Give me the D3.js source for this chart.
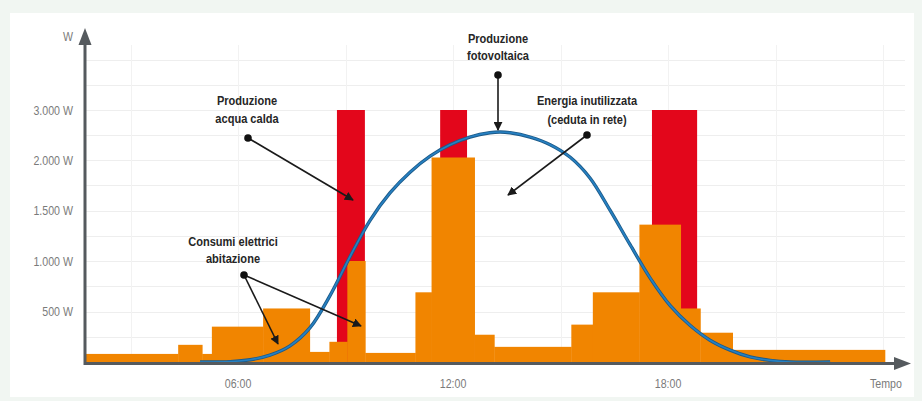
<!DOCTYPE html>
<html>
<head>
<meta charset="utf-8">
<script src="https://cdn.jsdelivr.net/npm/d3@7"></script>
<style>
  html, body { margin: 0; padding: 0; background: #f1f6f2; }
  svg { display: block; }
  .tick-label { font-family: "Liberation Sans", Arial, sans-serif; font-size: 12.5px; fill: #7a7a7a; }
  .note { font-family: "Liberation Sans", Arial, sans-serif; font-size: 13.5px; font-weight: bold; fill: #262626; }
</style>
</head>
<body>
<svg id="chart" width="922" height="401"></svg>
<script>
// Household consumption steps (hours of the day, watts)
const homeStart = [1.73, 4.33, 5.0, 5.27, 6.7, 8.0, 8.55, 9.05, 9.55, 10.95, 11.4, 12.6, 13.15, 15.3, 15.9, 17.2, 18.35, 18.9, 19.8];
const homeEnd   = [4.33, 5.0, 5.27, 6.7, 8.0, 8.55, 9.05, 9.55, 10.95, 11.4, 12.6, 13.15, 15.3, 15.9, 17.2, 18.35, 18.9, 19.8, 24.05];
const homeWatts = [80, 170, 80, 350, 530, 100, 200, 1000, 90, 690, 2050, 270, 150, 370, 690, 1360, 530, 290, 120];

// Water heater runs (hours, watts)
const heaterStart = [8.76, 11.64, 17.55];
const heaterEnd   = [9.54, 12.39, 18.81];
const heaterWatts = [3000, 3000, 3000];

// Photovoltaic production over the day (hours, watts)
const pvHours = [4.94, 5.78, 6.34, 6.89, 7.45, 8.01, 8.57, 9.13, 9.68, 10.24, 10.8, 11.36, 11.92, 12.47, 13.03, 13.31, 13.59, 14.15, 14.71, 15.27, 15.82, 16.38, 16.94, 17.5, 18.06, 18.61, 19.17, 19.73, 20.29, 20.85, 21.4, 22.52];
const pvWatts = [0, 3, 22, 68, 160, 340, 660, 1047, 1400, 1674, 1879, 2077, 2307, 2459, 2546, 2560, 2546, 2459, 2307, 2054, 1822, 1503, 1161, 831, 558, 364, 216, 118, 50, 16, 0, 0];

// Axes
const yTickValues = [500, 1000, 1500, 2000, 3000];
const yTickLabels = ["500 W", "1.000 W", "1.500 W", "2.000 W", "3.000 W"];
const yGridValues = [250, 500, 750, 1000, 1250, 1500, 1750, 2000, 2500, 3000, 3500, 4000];
const xTickValues = [6, 12, 18];
const xTickLabels = ["06:00", "12:00", "18:00"];
const xGridValues = [3, 6, 9, 12, 15, 18, 21, 24];

// Callout notes
const noteLines = [["Produzione", "acqua calda"], ["Consumi elettrici", "abitazione"], ["Produzione", "fotovoltaica"], ["Energia inutilizzata", "(ceduta in rete)"]];

const svg = d3.select("#chart");

// white panel
svg.append("rect").attr("x", 10).attr("y", 13).attr("width", 904).attr("height", 384).attr("fill", "#ffffff");

const x = d3.scaleLinear().domain([1.73, 24.75]).range([85, 910]);
// the value axis is compressed above 2 kW
const y = d3.scaleLinear().domain([0, 2000, 3000]).range([362, 160, 110]);

// grid
const grid = svg.append("g");
grid.selectAll("line.h").data(yGridValues).join("line")
  .attr("x1", 86).attr("x2", 905)
  .attr("y1", d => Math.round(y(d)) + 0.5).attr("y2", d => Math.round(y(d)) + 0.5)
  .attr("stroke", "#eeeeee").attr("stroke-width", 1);
grid.selectAll("line.v").data(xGridValues).join("line")
  .attr("x1", d => Math.round(x(d)) + 0.5).attr("x2", d => Math.round(x(d)) + 0.5)
  .attr("y1", 45).attr("y2", 362)
  .attr("stroke", "#f2f2f2").attr("stroke-width", 1);

// water heater bars
svg.append("g").selectAll("rect").data(heaterStart).join("rect")
  .attr("x", (d, i) => x(d))
  .attr("width", (d, i) => x(heaterEnd[i]) - x(d))
  .attr("y", (d, i) => y(heaterWatts[i]))
  .attr("height", (d, i) => y(0) - y(heaterWatts[i]))
  .attr("fill", "#e3061b");

// household consumption steps
svg.append("g").selectAll("rect").data(homeStart).join("rect")
  .attr("x", (d, i) => x(d))
  .attr("width", (d, i) => x(homeEnd[i]) - x(d) + 0.4)
  .attr("y", (d, i) => y(homeWatts[i]))
  .attr("height", (d, i) => y(0) - y(homeWatts[i]) + 1)
  .attr("fill", "#f18500");

// PV curve
const pvLine = d3.line()
  .x((d, i) => x(pvHours[i]))
  .y(d => y(d))
  .curve(d3.curveCatmullRom);
svg.append("path").datum(pvWatts)
  .attr("d", pvLine)
  .attr("fill", "none")
  .attr("stroke", "#1d5a88").attr("stroke-width", 3.4);
svg.append("path").datum(pvWatts)
  .attr("d", pvLine)
  .attr("fill", "none")
  .attr("stroke", "#2680c2").attr("stroke-width", 1.7);

// axes
const axisColor = "#555a5e";
svg.append("line").attr("x1", 85).attr("x2", 85).attr("y1", 42).attr("y2", 365)
  .attr("stroke", axisColor).attr("stroke-width", 3);
svg.append("path").attr("d", "M85,28 L78.5,45 L91.5,45 Z").attr("fill", axisColor);
svg.append("line").attr("x1", 84).attr("x2", 898).attr("y1", 363.5).attr("y2", 363.5)
  .attr("stroke", axisColor).attr("stroke-width", 3);
svg.append("path").attr("d", "M911,363.5 L894,357 L894,370 Z").attr("fill", axisColor);

// narrowed text helper
function narrowText(g, cls, tx, ty, anchor, str, sx) {
  return g.append("text").attr("class", cls)
    .attr("transform", `translate(${tx},${ty}) scale(${sx},1)`)
    .attr("text-anchor", anchor).text(str);
}

const labels = svg.append("g");
yTickValues.forEach((v, i) => narrowText(labels, "tick-label", 73, y(v) + 4.5, "end", yTickLabels[i], 0.85));
narrowText(labels, "tick-label", 73, 41, "end", "W", 0.85);
xTickValues.forEach((v, i) => narrowText(labels, "tick-label", x(v), 388, "middle", xTickLabels[i], 0.85));
narrowText(labels, "tick-label", 886, 388, "middle", "Tempo", 0.85);

// callouts
svg.append("defs").append("marker")
  .attr("id", "tip").attr("viewBox", "0 0 10 10")
  .attr("refX", 9).attr("refY", 5)
  .attr("markerWidth", 9).attr("markerHeight", 9)
  .attr("markerUnits", "userSpaceOnUse")
  .attr("orient", "auto")
  .append("path").attr("d", "M0,0 L10,5 L0,10 Z").attr("fill", "#1a1a1a");

const notes = [
  { cx: 247, ty: 105, gap: 18, dot: [248, 138], tips: [[353, 200]] },
  { cx: 233, ty: 246, gap: 17, dot: [244, 275], tips: [[278, 344], [361, 326]] },
  { cx: 498, ty: 43, gap: 17, dot: [498, 75], tips: [[498, 130]] },
  { cx: 587, ty: 105, gap: 19, dot: [587, 135], tips: [[508, 195]] }
];
const ng = svg.append("g");
notes.forEach((n, k) => {
  noteLines[k].forEach((line, j) => narrowText(ng, "note", n.cx, n.ty + j * n.gap, "middle", line, 0.82));
  n.tips.forEach(t => {
    ng.append("line")
      .attr("x1", n.dot[0]).attr("y1", n.dot[1])
      .attr("x2", t[0]).attr("y2", t[1])
      .attr("stroke", "#1a1a1a").attr("stroke-width", 1.6)
      .attr("marker-end", "url(#tip)");
  });
  ng.append("circle").attr("cx", n.dot[0]).attr("cy", n.dot[1]).attr("r", 3.8).attr("fill", "#111");
});
</script>
</body>
</html>
